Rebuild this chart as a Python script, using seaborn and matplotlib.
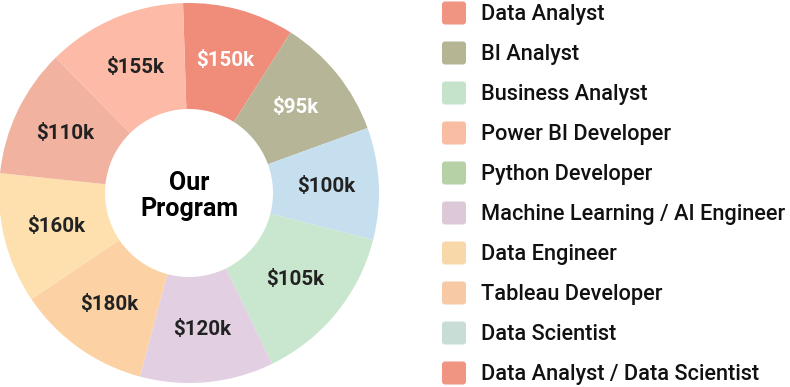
import matplotlib
matplotlib.use("Agg")
import matplotlib.pyplot as plt
from matplotlib.patches import FancyBboxPatch
import seaborn as sns
import numpy as np

# ---- data ----
wedge_labels = ["$150k", "$95k", "$100k", "$105k", "$120k", "$180k", "$160k", "$110k", "$155k"]
wedge_shares = [34.1, 37.7, 34.3, 49.7, 41.0, 41.0, 40.0, 39.5, 42.7]
wedge_colors = ["#EF8C7A", "#B6B598", "#C5DFEF", "#C9E7CE", "#E2D0E2",
                "#FCD1A3", "#FEDFAE", "#F1B2A0", "#FDBAA6"]
label_colors = ["white", "white", "#222222", "#222222", "#222222",
                "#222222", "#222222", "#222222", "#222222"]

legend_labels = ["Data Analyst", "BI Analyst", "Business Analyst", "Power BI Developer",
                 "Python Developer", "Machine Learning / AI Engineer", "Data Engineer",
                 "Tableau Developer", "Data Scientist", "Data Analyst / Data Scientist"]
legend_colors = ["#EF9582", "#B5B594", "#C5E3CB", "#F9BDA3", "#B5D1A5",
                 "#DDC8D8", "#F8D8A8", "#F7C9A5", "#C7DDD5", "#EF9582"]

center_text = "Our\nProgram"

sns.set_theme(style="white")
plt.rcParams["font.family"] = ["Roboto", "DejaVu Sans"]

W, H = 790, 387
fig = plt.figure(figsize=(W / 100, H / 100), dpi=100)
fig.patch.set_facecolor("white")

# donut axes
cx, cy, R = 189, 193, 190
ax = fig.add_axes([(cx - R) / W, (H - cy - R) / H, 2 * R / W, 2 * R / H])

pal = sns.color_palette(wedge_colors)
wedges, _ = ax.pie(wedge_shares, colors=pal, startangle=91.8, counterclock=False,
                   radius=1.0, wedgeprops=dict(width=1 - 84 / R, linewidth=0))
ax.set_xlim(-1, 1)
ax.set_ylim(-1, 1)
ax.set_aspect("equal")
ax.axis("off")

start = 91.8
rl = 137 / R
for lab, share, lc in zip(wedge_labels, wedge_shares, label_colors):
    mid = np.deg2rad(start - share / 2)
    start -= share
    ax.text(rl * np.cos(mid), rl * np.sin(mid), lab, ha="center", va="center",
            fontsize=14.8, fontweight="bold", color=lc)

ax.text(0, -0.016, center_text, ha="center", va="center", fontsize=18,
        fontweight="bold", color="black", linespacing=1.12)

# legend axes in pixel coordinates
lax = fig.add_axes([0, 0, 1, 1])
lax.set_xlim(0, W)
lax.set_ylim(H, 0)
lax.axis("off")
lax.patch.set_alpha(0)
for i, (lab, col) in enumerate(zip(legend_labels, legend_colors)):
    yc = 13 + 40 * i
    box = FancyBboxPatch((442, yc - 11.5), 24, 23, boxstyle="round,pad=0,rounding_size=3",
                         facecolor=col, edgecolor="none")
    lax.add_patch(box)
    lax.text(481, yc + 1.5, lab, ha="left", va="center", fontsize=15.7,
             fontweight="medium", color="#111111")

fig.savefig("out.png", dpi=100, facecolor="white")
